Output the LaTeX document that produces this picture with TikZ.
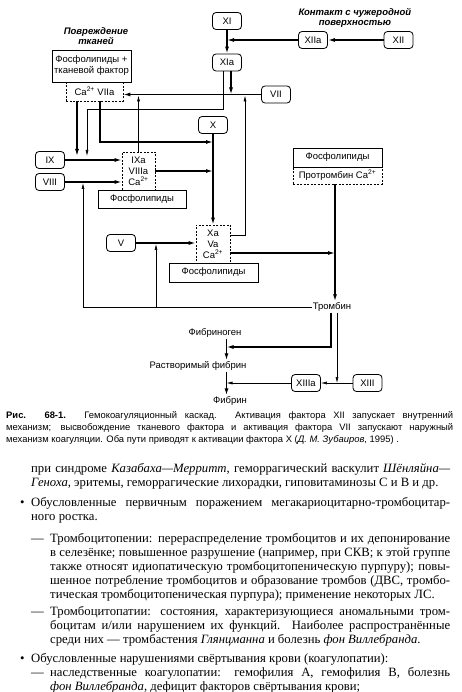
\documentclass[tikz,border=0pt]{standalone}
\usepackage{fontspec}
\setmainfont{Liberation Serif}
\newfontfamily\dfont{Liberation Sans}
\usetikzlibrary{arrows.meta}
\newcommand\dfs{\dfont\fontsize{9.5}{11}\selectfont}
\newcommand\capf{\dfont\fontsize{9.4}{11}\selectfont}
\newcommand\bodyf{\rmfamily\fontsize{12.7}{14}\selectfont}
\newcommand\jl[2]{\makebox[#1][s]{#2}}
\newcommand\caii{Ca\textsuperscript{2+}}
\tikzset{
  fbox/.style={draw, rounded corners=3.5pt, line width=0.8pt, minimum width=29pt, minimum height=17pt, inner sep=0pt, font=\dfs},
  sbox/.style={draw, line width=0.8pt, inner sep=0pt, font=\dfs, align=center},
  dbox/.style={draw, dash pattern=on 2pt off 1.5pt, line width=0.6pt, inner sep=0pt, font=\dfs, align=center},
  lbl/.style={inner sep=1pt, font=\dfs},
  head/.style={inner sep=0pt, align=center, font=\dfont\bfseries\itshape\fontsize{9.5}{10.5}\selectfont},
  thk/.style={line width=1.3pt, -{Latex[length=7pt,width=4pt]}},
  thn/.style={line width=0.6pt, -{Latex[length=6pt,width=3pt]}},
  txt/.style={inner sep=0pt, anchor=base west, font=\bodyf},
  captxt/.style={inner sep=0pt, anchor=base west, font=\capf},
}
\begin{document}
\begin{tikzpicture}[x=1pt,y=-1pt]
\useasboundingbox (0,0) rectangle (461,692);
\fill[white] (0,0) rectangle (461,692);

% headings
\node[head] (hurt) at (96,36) {Повреждение\\тканей};
\node[head] (contact) at (355,18) {Контакт с чужеродной\\поверхностью};

% factor boxes
\node[fbox] (XI) at (227,21) {XI};
\node[fbox] (XIa) at (227,62.5) {XIa};
\node[fbox] (XIIa) at (313,40) {XIIa};
\node[fbox] (XII) at (398.5,40) {XII};
\node[fbox] (VII) at (276,94.5) {VII};
\node[fbox] (X) at (213,125) {X};
\node[fbox] (IX) at (50,160) {IX};
\node[fbox] (VIII) at (50,182) {VIII};
\node[fbox] (V) at (121,243) {V};
\node[fbox] (XIIIa) at (306,383) {XIIIa};
\node[fbox] (XIII) at (367.5,383) {XIII};

% complexes
\node[dbox, minimum width=57pt, minimum height=19pt] (ca7) at (94.5,91.5) {\caii\ VIIa};
\node[sbox, minimum width=79pt, minimum height=32pt] (pl1) at (91.5,66) {Фосфолипиды +\\тканевой фактор};
\node[dbox, minimum width=33pt, minimum height=38pt] (IXa) at (138.5,171) {IXa\\VIIIa\\\caii};
\node[sbox, minimum width=88pt, minimum height=18pt] (pl2) at (142,199) {Фосфолипиды};
\node[dbox, minimum width=34pt, minimum height=38pt] (Xa) at (213,244) {Xa\\Va\\\caii};
\node[sbox, minimum width=89pt, minimum height=19pt] (pl3) at (213.5,272.5) {Фосфолипиды};
\node[dbox, minimum width=89pt, minimum height=17pt] (proth) at (337.5,175.5) {Протромбин \caii};
\node[sbox, minimum width=89pt, minimum height=19pt] (pl4) at (337.5,157.5) {Фосфолипиды};

% products
\node[lbl] (thr) at (332,307) {Тромбин};
\node[lbl] (fgen) at (215,333) {Фибриноген};
\node[lbl] (sfib) at (198,366) {Растворимый фибрин};
\node[lbl] (fib) at (230,401) {Фибрин};

% coordinates
\coordinate (j1) at (227,40);
\coordinate (h7) at (231,94.5);
\coordinate (a1) at (223,109);
\coordinate (k2) at (87,156);
\coordinate (b1) at (77,156);
\coordinate (b2) at (100,142);
\coordinate (d1) at (245,235);
\coordinate (d2) at (335,253);
\coordinate (e1) at (83,307);
\coordinate (e2) at (156,307);
\coordinate (g1) at (331,347);
\coordinate (g2) at (226.5,347);
\coordinate (h1) at (337,383);

% connectors
\draw[thk] (XII) -- (XIIa);
\draw[thk] (XIIa) -- (j1);
\draw[thk] (XI) -- (XIa);
\draw[thk] (XIa.south -| h7) -- (h7);
\draw[thk] (VII.west) -- (VII.west -| ca7.east);
\draw[thn] (XIa.south -| a1) -- (a1) -| (k2);
\draw[thk] (ca7.south -| b1) -- (b1);
\draw[thk] (ca7.south -| b2) -- (b2) -- (b2 -| X);
\draw[thk] (X) -- (Xa);
\draw[thk] (IX) -- (IX -| IXa.west);
\draw[thk] (VIII) -- (VIII -| IXa.west);
\draw[thk] (IXa.east) -- (IXa.east -| X);
\draw[thn, shorten >=1pt] (IXa.north) -- (IXa.north |- VII.west);
\draw[thk] (V) -- (V -| Xa.west);
\draw[thn, shorten >=1pt] (Xa.east |- d1) -- (d1) -- (d1 |- VII.west);
\draw[thk] (Xa.east |- d2) -- (d2);
\draw[thk] (proth.south -| d2) -- (d2 |- thr.north);
\draw[thn, shorten >=1pt] (thr.west) -- (e1) -- (e1 |- VIII);
\draw[thn, shorten >=1pt] (e2) -- (e2 |- V);
\draw[thk] (thr.south -| g1) -- (g1) -- (g2);
\draw[thk] (fgen.south -| g2) -- (sfib.north -| g2);
\draw[thk] (sfib.south -| g2) -- (fib.north -| g2);
\draw[thn] (thr.south -| h1) -- (h1);
\draw[thn] (XIII) -- (XIIIa);
\draw[thn] (XIIIa) -- (XIIIa -| g2);

% caption
\node[captxt] (c1) at (6,418) {\jl{447pt}{\textbf{Рис. 68-1.} Гемокоагуляционный каскад. Активация фактора XII запускает внутренний}};
\node[captxt] (c2) at (6,430) {\jl{447pt}{механизм; высвобождение тканевого фактора и активация фактора VII запускают наружный}};
\node[captxt] (c3) at (6,442) {механизм коагуляции. Оба пути приводят к активации фактора X (\textit{Д. М. Зубаиров}, 1995) .};

% body text
\node[txt] (t1) at (31,472) {\jl{419pt}{при синдроме \textit{Казабаха—Мерритт}, геморрагический васкулит \textit{Шёнляйна—}}};
\node[txt] (t2) at (31,486) {\textit{Геноха}, эритемы, геморрагические лихорадки, гиповитаминозы С и В и др.};
\node[txt] (b1t) at (20,506) {•};
\node[txt] (t3) at (31,506) {\jl{419pt}{Обусловленные первичным поражением мегакариоцитарно-тромбоцитар-}};
\node[txt] (t4) at (31,520) {ного ростка.};
\node[txt] (d1t) at (31,542) {—};
\node[txt] (t5) at (50,542) {\jl{400pt}{Тромбоцитопении: перераспределение тромбоцитов и их депонирование}};
\node[txt] (t6) at (50,556) {\jl{400pt}{в селезёнке; повышенное разрушение (например, при СКВ; к этой группе}};
\node[txt] (t7) at (50,570) {\jl{400pt}{также относят идиопатическую тромбоцитопеническую пурпуру); повы-}};
\node[txt] (t8) at (50,584) {\jl{400pt}{шенное потребление тромбоцитов и образование тромбов (ДВС, тромбо-}};
\node[txt] (t9) at (50,598) {тическая тромбоцитопеническая пурпура); применение некоторых ЛС.};
\node[txt] (d2t) at (31,615) {—};
\node[txt] (t10) at (50,615) {\jl{400pt}{Тромбоцитопатии: состояния, характеризующиеся аномальными тром-}};
\node[txt] (t11) at (50,629) {\jl{400pt}{боцитам и/или нарушением их функций. Наиболее распространённые}};
\node[txt] (t12) at (50,643) {среди них — тромбастения \textit{Глянцманна} и болезнь \textit{фон Виллебранда}.};
\node[txt] (b2t) at (20,662) {•};
\node[txt] (t13) at (31,662) {Обусловленные нарушениями свёртывания крови (коагулопатии):};
\node[txt] (d3t) at (31,676) {—};
\node[txt] (t14) at (50,676) {\jl{400pt}{наследственные коагулопатии: гемофилия А, гемофилия В, болезнь}};
\node[txt] (t15) at (50,690) {\textit{фон Виллебранда}, дефицит факторов свёртывания крови;};
\end{tikzpicture}
\end{document}
